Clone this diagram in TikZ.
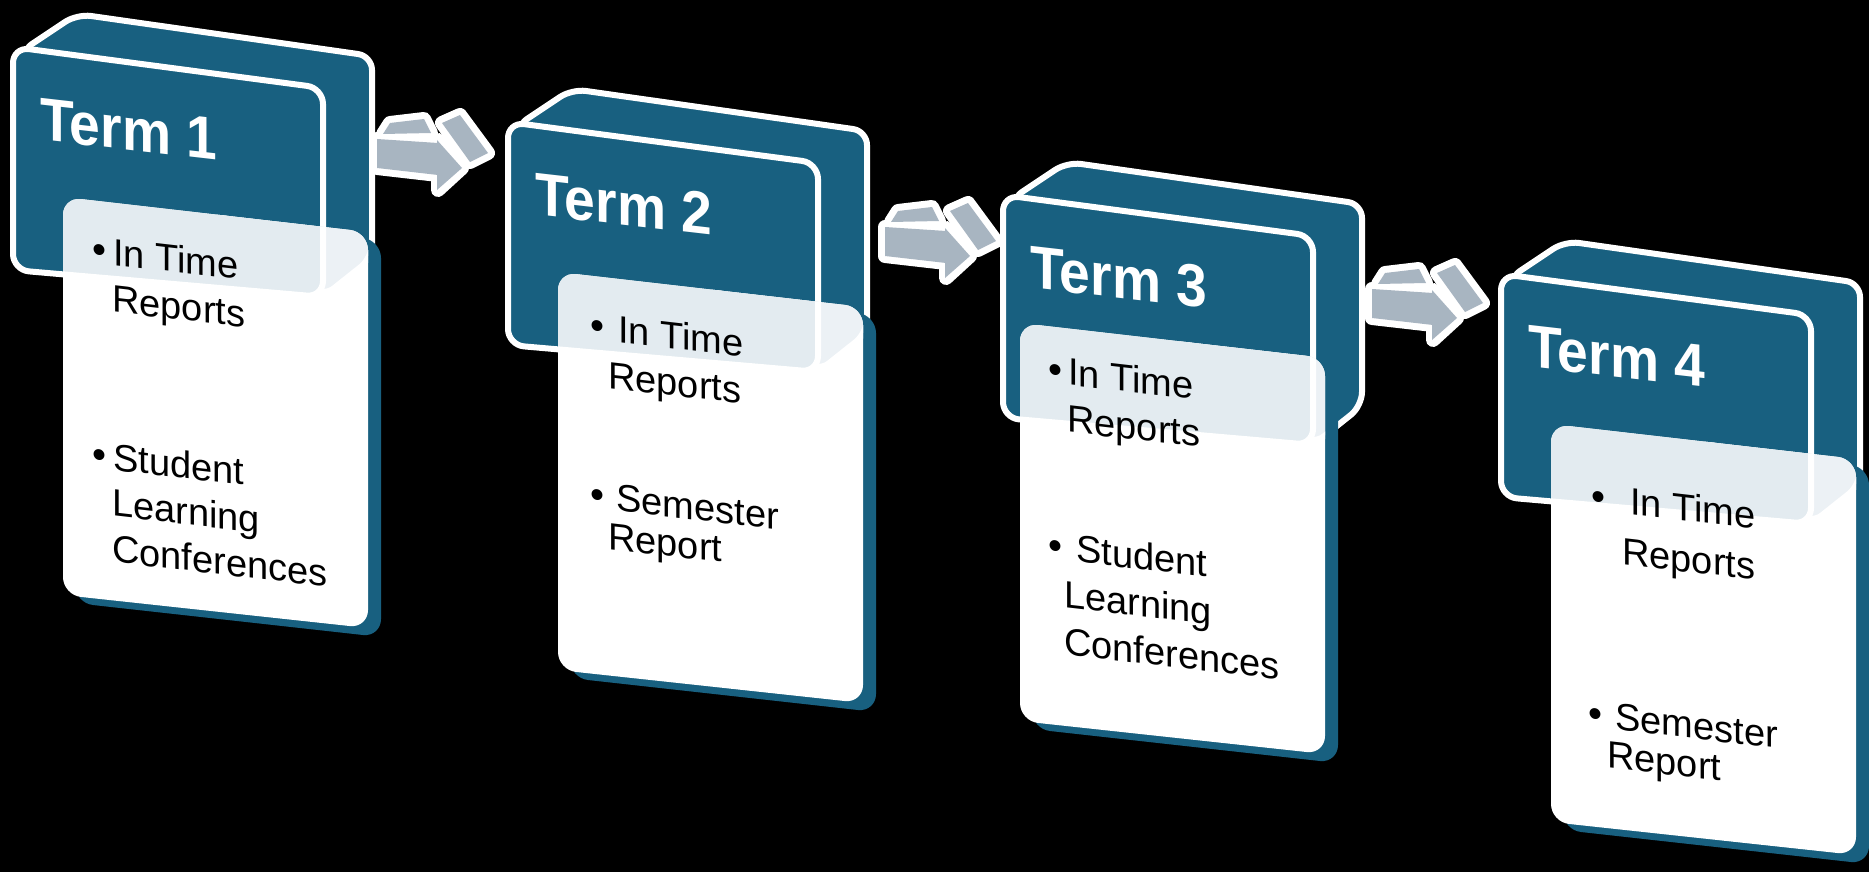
\documentclass[tikz,border=0pt]{standalone}
\usepackage{fontspec}
\setmainfont{Liberation Sans}
\definecolor{tblue}{RGB}{24,96,128}
\definecolor{agray}{RGB}{168,181,193}
\definecolor{bandcol}{RGB}{227,235,240}
\definecolor{bandcolb}{RGB}{236,241,245}
\tikzset{
  slabshape/.style={fill=tblue, draw=white, line width=6pt, rounded corners=14pt, line join=round},
  faceshape/.style={fill=tblue, draw=white, line width=6pt, rounded corners=16pt, line join=round},
  slabband/.style={fill=bandcolb, draw=white, line width=6pt, rounded corners=14pt, line join=round},
  faceband/.style={fill=bandcol, draw=white, line width=6pt, rounded corners=16pt, line join=round},
  cardshape/.style={fill=white, rounded corners=18pt},
  rimshape/.style={fill=tblue, rounded corners=18pt},
  termtext/.style={text=white, font=\fontsize{60}{60}\selectfont\bfseries, anchor=base west, inner sep=0pt},
  bodytext/.style={text=black, font=\fontsize{38}{38}\selectfont, anchor=base west, inner sep=0pt},
  bullettext/.style={text=black, font=\fontsize{40}{40}\selectfont, anchor=base, inner sep=0pt},
  arrowline/.style={fill=white, draw=white, line width=14pt, line join=round},
  arrowface/.style={fill=agray},
}
\newcommand\blockarrow[1]{%
  \begin{scope}[shift={#1}]
    \draw[arrowline] (390,-123) -- (424,-119) -- (431,-133) -- (383,-134) -- cycle;
    \draw[arrowline] (377,-139) -- (438,-143) -- (438,-175) -- (377,-168) -- cycle;
    \draw[arrowline] (438,-140) -- (462,-168) -- (438,-190) -- cycle;
    \draw[arrowline] (442,-123) -- (460,-115) -- (488,-153) -- (470,-162) -- cycle;
    \fill[arrowface] (390,-123) -- (424,-119) -- (431,-133) -- (383,-134) -- cycle;
    \fill[arrowface] (377,-139) -- (438,-143) -- (438,-175) -- (377,-168) -- cycle;
    \fill[arrowface] (437,-140) -- (462,-168) -- (437,-190) -- cycle;
    \fill[arrowface] (442,-123) -- (460,-115) -- (488,-153) -- (470,-162) -- cycle;
  \end{scope}}
% #1 block shift, #2 card shift
\newcommand\termshapes[2]{%
  \begin{scope}[shift={#1}]
    \draw[slabshape] (20,-52) -- (77,-14) -- (372,-56) -- (372,-258) -- (323,-297) -- cycle;
    \draw[faceshape] (13,-47) -- (323,-88) -- (323,-297) -- (13,-270) -- cycle;
    \begin{scope}[shift={#2}]
      \fill[rimshape] (75,-205) -- (381,-240) -- (381,-637) -- (75,-603) -- cycle;
      \fill[cardshape] (63,-197) -- (368,-232) -- (368,-628) -- (63,-595) -- cycle;
    \end{scope}
    \begin{scope}
      \clip[shift={#2}, rounded corners=18pt] (63,-197) -- (368,-232) -- (368,-628) -- (63,-595) -- cycle;
      \draw[slabband] (20,-52) -- (77,-14) -- (372,-56) -- (372,-258) -- (323,-297) -- cycle;
      \draw[faceband] (13,-47) -- (323,-88) -- (323,-297) -- (13,-270) -- cycle;
    \end{scope}
  \end{scope}}
\begin{document}
\begin{tikzpicture}[x=1pt,y=1pt]
\fill[black] (0,0) rectangle (1869,-872);
\useasboundingbox (0,0) rectangle (1869,-872);

% arrows between terms
\blockarrow{(0,0)}
\blockarrow{(508,-88)}
\blockarrow{(995,-150)}

% Term 1
\termshapes{(0,0)}{(0,0)}
\begin{scope}[shift={(0,0)}, yslant=-0.115, transform shape]
  \node[termtext] (t1) at (40,-135) {\scalebox{0.92}[1]{Term 1}};
  \node[bullettext] (t1p1) at (100,-252) {•};
  \node[bodytext] (t1a) at (113,-252) {In Time};
  \node[bodytext] (t1b) at (112,-299) {Reports};
  \node[bullettext] (t1p2) at (100,-457) {•};
  \node[bodytext] (t1c) at (113,-457) {Student};
  \node[bodytext] (t1d) at (112,-503) {Learning};
  \node[bodytext] (t1e) at (112,-549) {Conferences};
\end{scope}

% Term 2
\termshapes{(495,-75)}{(0,0)}
\begin{scope}[shift={(495,-75)}, yslant=-0.115, transform shape]
  \node[termtext] (t2) at (40,-135) {\scalebox{0.92}[1]{Term 2}};
  \node[bullettext] (t2p1) at (102,-253) {•};
  \node[bodytext] (t2a) at (123,-253) {In Time};
  \node[bodytext] (t2b) at (113,-300) {Reports};
  \node[bullettext] (t2p2) at (102,-422) {•};
  \node[bodytext] (t2c) at (121,-422) {Semester};
  \node[bodytext] (t2d) at (113,-461) {Report};
\end{scope}

% Term 3
\termshapes{(990,-148)}{(-33,22)}
\begin{scope}[shift={(990,-148)}, yslant=-0.115, transform shape]
  \node[termtext] (t3) at (40,-135) {\scalebox{0.92}[1]{Term 3}};
  \node[bullettext] (t3p1) at (65,-228) {•};
  \node[bodytext] (t3a) at (78,-228) {In Time};
  \node[bodytext] (t3b) at (77,-275) {Reports};
  \node[bullettext] (t3p2) at (65,-404) {•};
  \node[bodytext] (t3c) at (86,-404) {Student};
  \node[bodytext] (t3d) at (74,-451) {Learning};
  \node[bodytext] (t3e) at (74,-498) {Conferences};
\end{scope}

% Term 4
\termshapes{(1488,-227)}{(0,0)}
\begin{scope}[shift={(1488,-227)}, yslant=-0.115, transform shape]
  \node[termtext] (t4) at (40,-135) {\scalebox{0.92}[1]{Term 4}};
  \node[bullettext] (t4p1) at (110,-271) {•};
  \node[bodytext] (t4a) at (142,-271) {In Time};
  \node[bodytext] (t4b) at (134,-322) {Reports};
  \node[bullettext] (t4p2) at (107,-488) {•};
  \node[bodytext] (t4c) at (127,-488) {Semester};
  \node[bodytext] (t4d) at (119,-527) {Report};
\end{scope}
\end{tikzpicture}
\end{document}
